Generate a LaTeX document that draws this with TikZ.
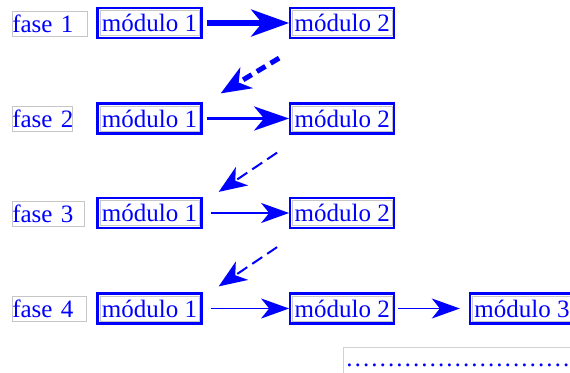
\documentclass[tikz,border=0pt]{standalone}
\usepackage{fontspec}
\setmainfont{Liberation Serif}
\usetikzlibrary{arrows.meta}
\tikzset{
  every node/.style={font=\fontsize{25}{30}\selectfont},
  modbox/.style={draw=gray!45, line width=0.6pt, text=blue, inner xsep=2pt, inner ysep=2pt,
    text height=19pt, text depth=2pt, outer sep=3.6pt,
    append after command={\pgfextra{\draw[blue, line width=2.2pt]
      ([shift={(1.1pt,-1.1pt)}]\tikzlastnode.north west) rectangle
      ([shift={(-1.1pt,1.1pt)}]\tikzlastnode.south east);}}},
  fasebox/.style={draw=gray!45, line width=0.6pt, text=blue, inner xsep=0pt, inner ysep=2pt,
    text height=19pt, text depth=2pt, anchor=west, align=left},
  arrA/.style={blue, line width=5.5pt, -{Stealth[length=38pt, width=27pt, inset=11pt]}},
  arrB/.style={blue, line width=3.8pt, -{Stealth[length=35pt, width=24pt, inset=10pt]}},
  arrC/.style={blue, line width=1.6pt, -{Stealth[length=28pt, width=20pt, inset=8pt]}},
  dashA/.style={blue, line width=5pt, dash pattern=on 10pt off 6pt, -{Stealth[length=30pt, width=24pt, inset=9pt]}},
  dashB/.style={blue, line width=2pt, dash pattern=on 12pt off 6pt, -{Stealth[length=28pt, width=22pt, inset=8pt]}},
  dotbox/.style={draw=gray!35, line width=0.6pt, text=blue, anchor=north west, inner xsep=2pt,
    inner ysep=2pt, text height=17pt, text depth=12pt},
}
\begin{document}
\begin{tikzpicture}[x=1pt, y=-1pt]
\useasboundingbox (0,0) rectangle (570,372);
\clip (0,0) rectangle (570,372);
% phase labels
\node[fasebox, text width=75pt] (f1) at (12,24) {\mbox{fase 1}};
\node[fasebox, text width=60pt] (f2) at (12,119) {\mbox{fase 2}};
\node[fasebox, text width=72pt] (f3) at (12,214) {\mbox{fase 3}};
\node[fasebox, text width=74pt] (f4) at (12,309) {\mbox{fase 4}};
% modules
\node[modbox] (m11) at (149.5,23) {módulo 1};
\node[modbox] (m12) at (342.3,23) {módulo 2};
\node[modbox] (m21) at (149.5,118.5) {módulo 1};
\node[modbox] (m22) at (342.3,118.5) {módulo 2};
\node[modbox] (m31) at (149.5,213) {módulo 1};
\node[modbox] (m32) at (342.3,213) {módulo 2};
\node[modbox] (m41) at (149.5,308.5) {módulo 1};
\node[modbox] (m42) at (342.3,308.5) {módulo 2};
\node[modbox] (m43) at (522,308.5) {módulo 3};
% horizontal arrows
\draw[arrA, shorten <=4.5pt] (m11) -- (m12);
\draw[arrB, shorten <=4.5pt] (m21) -- (m22);
\draw[arrC, shorten <=8pt] (m31) -- (m32);
\draw[arrC, shorten <=8pt] (m41) -- (m42);
\draw[arrC, shorten <=2.6pt, shorten >=9pt] (m42) -- (m43);
% dashed arrows between phases
\draw[dashA] ([shift={(-10,19)}]m12.south west) -- ([shift={(18,-9)}]m21.north east);
\draw[dashB] ([shift={(-12,18)}]m22.south west) -- ([shift={(16,-5)}]m31.north east);
\draw[dashB] ([shift={(-12,18)}]m32.south west) -- ([shift={(16,-6)}]m41.north east);
% bottom dotted box
\node[dotbox] (dots) at (343,347) {\mbox{…………………………}};
\end{tikzpicture}
\end{document}
